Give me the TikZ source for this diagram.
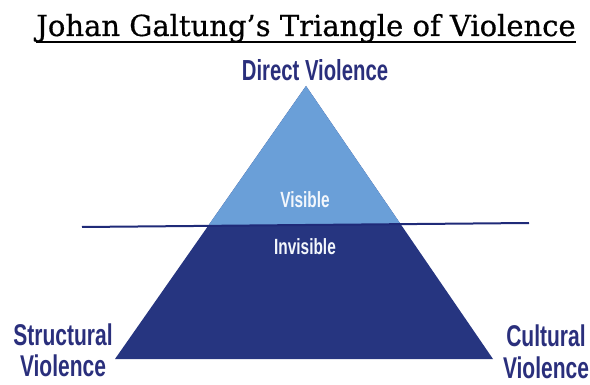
\documentclass[tikz,border=0pt]{standalone}
\usepackage{fontspec}
\usepackage{xcolor}
\usepackage{tikz}
\usetikzlibrary{positioning}
\setmainfont{DejaVu Serif}
\newfontfamily\titlefont[FakeBold=0.6]{DejaVu Serif}
\newfontfamily\labelfont[FakeStretch=0.7]{Liberation Sans Bold}
\definecolor{navytext}{HTML}{2A2F7C}
\definecolor{lightpart}{HTML}{6A9FD8}
\definecolor{darkpart}{HTML}{263580}
\definecolor{cutline}{HTML}{1F2A78}

\begin{document}
\begin{tikzpicture}[x=1pt,
				y=-1pt,
				corner/.style={font=\labelfont\fontsize{30}{32}\selectfont, text=navytext, align=center, inner sep=0pt},
				layer/.style={font=\labelfont\fontsize{22}{24}\selectfont, text=white!92!lightpart, inner sep=0pt}]
				
				\useasboundingbox (0,0) rectangle (590,385);
				
				% corners of the pyramid and the cut
				\coordinate (apex) at (306,86);
				\coordinate (baseL) at (115,359);
				\coordinate (baseR) at (493,359);
				\coordinate (cutL) at (82,227);
				\coordinate (cutR) at (529,223);
				
				\fill[darkpart] (apex) -- (baseL) -- (baseR) -- cycle;
				\begin{scope}
					\clip (cutL) -- (cutR) -- (529,0) -- (82,0) -- cycle;
					\fill[lightpart] (apex) -- (baseL) -- (baseR) -- cycle;
				\end{scope}
				\draw[cutline, line width=2pt] (cutL) -- (cutR);
				
				% title
				\node (title) [anchor=base, inner sep=0pt] at (306,36) {\titlefont\fontsize{29}{31}\selectfont Johan Galtung’s Triangle of Violence};
				\draw[black, line width=1.4pt] ([yshift=-6pt]title.base west) -- ([yshift=-6pt]title.base east);
				
				% labels (base = last line)
				\node (direct) [corner, font=\labelfont\fontsize{29}{31}\selectfont, anchor=base] at (315,81) {Direct Violence};
				\node (structural) [corner, anchor=base] at (63,377) {Structural\\Violence};
				\node (cultural) [corner, anchor=base] at (546,378) {Cultural\\Violence};
				\node (visible) [layer, anchor=base] at (305,208) {Visible};
				\node (invisible) [layer, anchor=base] at (305,255) {Invisible};
			\end{tikzpicture}
\end{document}
